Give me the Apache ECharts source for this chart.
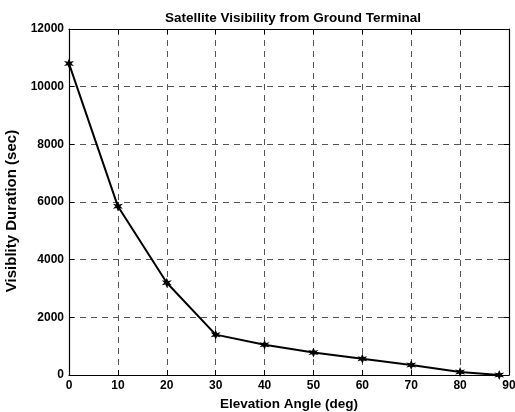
<!DOCTYPE html>
<html><head><meta charset="utf-8">
<script src="https://cdn.jsdelivr.net/npm/echarts@6/dist/echarts.min.js"></script>
<style>html,body{margin:0;padding:0;background:#fff}#c{width:515px;height:412px}</style>
</head><body><div id="c"></div>
<script>
const elevation = [0, 10, 20, 30, 40, 50, 60, 70, 80, 88];
const duration = [10800, 5850, 3200, 1400, 1050, 780, 560, 350, 105, 0];
const xTicks = [0, 10, 20, 30, 40, 50, 60, 70, 80, 90];
const yTicks = [0, 2000, 4000, 6000, 8000, 10000, 12000];

const font = 'Liberation Sans, Arial, Helvetica, sans-serif';
const star = 'path://M0,-10 L2.5,-3.5 L9,-5 L4.5,0 L9,5 L2.5,3.5 L0,10 L-2.5,3.5 L-9,5 L-4.5,0 L-9,-5 L-2.5,-3.5 Z';
const chart = echarts.init(document.getElementById('c'));
const tickStyle = {show: true, inside: true, length: 5, lineStyle: {color: '#000', width: 1}};
const lineStyle = {show: true, onZero: false, lineStyle: {color: '#000', width: 1.2}};
const gridLine = {show: true, lineStyle: {color: '#555', type: [6, 5], width: 1}};
chart.setOption({
  animation: false,
  title: {text: 'Satellite Visibility from Ground Terminal', left: 288, top: 6, textAlign: 'center',
    textStyle: {fontFamily: font, fontSize: 13.5, fontWeight: 'bold', color: '#000'}},
  grid: {left: 69, right: 6, top: 29, bottom: 37, containLabel: false, outerBoundsMode: 'none'},
  xAxis: [{
    type: 'value', min: 0, max: 90, interval: 10,
    name: 'Elevation Angle (deg)', nameLocation: 'middle', nameGap: 20,
    nameTextStyle: {fontFamily: font, fontSize: 13.5, fontWeight: 'bold', color: '#000'},
    axisLine: lineStyle, axisTick: tickStyle, splitLine: gridLine,
    axisLabel: {fontFamily: font, fontSize: 12, fontWeight: 'bold', color: '#000', margin: 5,
      formatter: v => xTicks.includes(v) ? String(v) : ''}
  }, {
    type: 'value', min: 0, max: 90, interval: 10, position: 'top',
    axisLine: lineStyle, axisTick: tickStyle, splitLine: {show: false}, axisLabel: {show: false}
  }],
  yAxis: [{
    type: 'value', min: 0, max: 12000, interval: 2000,
    name: 'Visiblity Duration (sec)', nameLocation: 'middle', nameGap: 48,
    nameTextStyle: {fontFamily: font, fontSize: 15, fontWeight: 'bold', color: '#000', padding: [0, 18, 0, 0]},
    axisLine: lineStyle, axisTick: tickStyle, splitLine: gridLine,
    axisLabel: {fontFamily: font, fontSize: 12, fontWeight: 'bold', color: '#000', margin: 5,
      formatter: v => yTicks.includes(v) ? String(v) : ''}
  }, {
    type: 'value', min: 0, max: 12000, interval: 2000, position: 'right',
    axisLine: lineStyle, axisTick: tickStyle, splitLine: {show: false}, axisLabel: {show: false}
  }],
  series: [{
    type: 'line', data: elevation.map((x, i) => [x, duration[i]]),
    symbol: star, symbolSize: 10, showAllSymbol: true,
    lineStyle: {color: '#000', width: 2}, itemStyle: {color: '#000'}
  }]
});
</script></body></html>
